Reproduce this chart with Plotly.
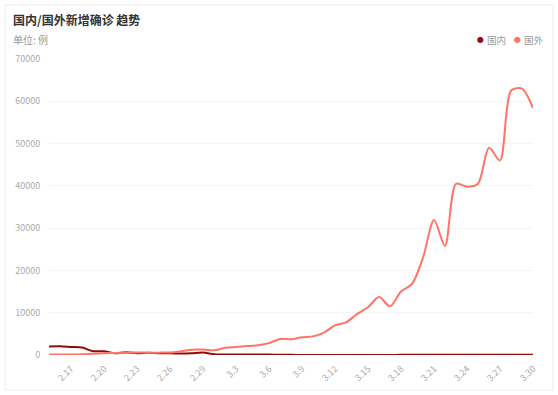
import plotly.graph_objects as go

dates = ["2.15", "2.16", "2.17", "2.18", "2.19", "2.20", "2.21", "2.22", "2.23", "2.24",
         "2.25", "2.26", "2.27", "2.28", "2.29", "3.1", "3.2", "3.3", "3.4", "3.5",
         "3.6", "3.7", "3.8", "3.9", "3.10", "3.11", "3.12", "3.13", "3.14", "3.15",
         "3.16", "3.17", "3.18", "3.19", "3.20", "3.21", "3.22", "3.23", "3.24", "3.25",
         "3.26", "3.27", "3.28", "3.29", "3.30"]

domestic = [2009, 2051, 1891, 1751, 900, 892, 397, 648, 409, 508,
            406, 433, 327, 427, 573, 202, 125, 119, 139, 143,
            99, 44, 40, 19, 24, 15, 8, 11, 20, 16,
            21, 13, 34, 39, 41, 46, 39, 78, 47, 67,
            55, 54, 45, 31, 48]

foreign = [100, 120, 100, 150, 300, 420, 500, 550, 570, 560,
           560, 600, 900, 1250, 1300, 1100, 1700, 1900, 2100, 2300,
           2800, 3800, 3700, 4200, 4400, 5300, 7000, 7700, 9700, 11300,
           13700, 11500, 15000, 16800, 23000, 31900, 25800, 40500, 39800, 40500,
           49000, 46000, 62500, 63000, 58400]

tick_labels = dates[2::3]

series_names = ["国内", "国外"]
colors = ["#8e0b0b", "#ff7466"]

fig = go.Figure()
for name, vals, col in zip(series_names, [domestic, foreign], colors):
    fig.add_trace(go.Scatter(x=dates, y=vals, mode="lines", name=name,
                             line=dict(color=col, width=2, shape="spline", smoothing=0.8),
                             showlegend=False, hoverinfo="skip"))

font_cjk = "Noto Sans CJK SC, Noto Sans, sans-serif"

W, H = 558, 395
L, R, T, B = 49, 25, 59, 40
pw, ph = W - L - R, H - T - B


def px(x):
    return (x - L) / pw


def py(y):
    return (H - B - y) / ph


fig.update_layout(
    width=W, height=H,
    margin=dict(l=L, r=R, t=T, b=B),
    paper_bgcolor="white", plot_bgcolor="white",
    font=dict(family=font_cjk, color="#999999", size=10),
    showlegend=False,
    xaxis=dict(type="category", range=[0, len(dates) - 1],
               tickmode="array", tickvals=tick_labels, ticktext=tick_labels,
               tickangle=-45, tickfont=dict(size=9, color="#aaaaaa"),
               showgrid=False, showline=False, zeroline=False,
               ticks="outside", ticklen=4, tickcolor="rgba(0,0,0,0)"),
    yaxis=dict(range=[0, 70000], dtick=10000, tickformat="d",
               tickfont=dict(size=9, color="#aaaaaa"),
               gridcolor="#f4f4f4", gridwidth=1, zeroline=False, showline=False,
               ticks="outside", ticklen=6, tickcolor="rgba(0,0,0,0)"),
    hovermode=False,
)

# card border
fig.add_shape(type="rect", xref="paper", yref="paper",
              x0=px(5), x1=px(553), y0=py(390), y1=py(5),
              line=dict(color="#ececec", width=1), fillcolor="rgba(0,0,0,0)", layer="below")

fig.add_annotation(text="<b>国内/国外新增确诊 趋势</b>", xref="paper", yref="paper",
                   x=px(11), y=py(20), xanchor="left", yanchor="middle",
                   showarrow=False, font=dict(size=12, color="#333333", family=font_cjk))
fig.add_annotation(text="单位: 例", xref="paper", yref="paper",
                   x=px(11), y=py(40), xanchor="left", yanchor="middle",
                   showarrow=False, font=dict(size=10, color="#999999", family=font_cjk))

# legend (dot + label)
dot_x = [480, 517]
for name, col, dx in zip(series_names, colors, dot_x):
    fig.add_annotation(text="●", xref="paper", yref="paper", x=px(dx), y=py(39.5),
                       xanchor="center", yanchor="middle", showarrow=False,
                       font=dict(size=8, color=col, family="DejaVu Sans"))
    fig.add_annotation(text=name, xref="paper", yref="paper", x=px(dx + 5), y=py(40),
                       xanchor="left", yanchor="middle", showarrow=False,
                       font=dict(size=9.5, color="#999999", family=font_cjk))

fig.write_html("out.html", config={"displayModeBar": False},
               post_script="document.body.style.margin='0';")
